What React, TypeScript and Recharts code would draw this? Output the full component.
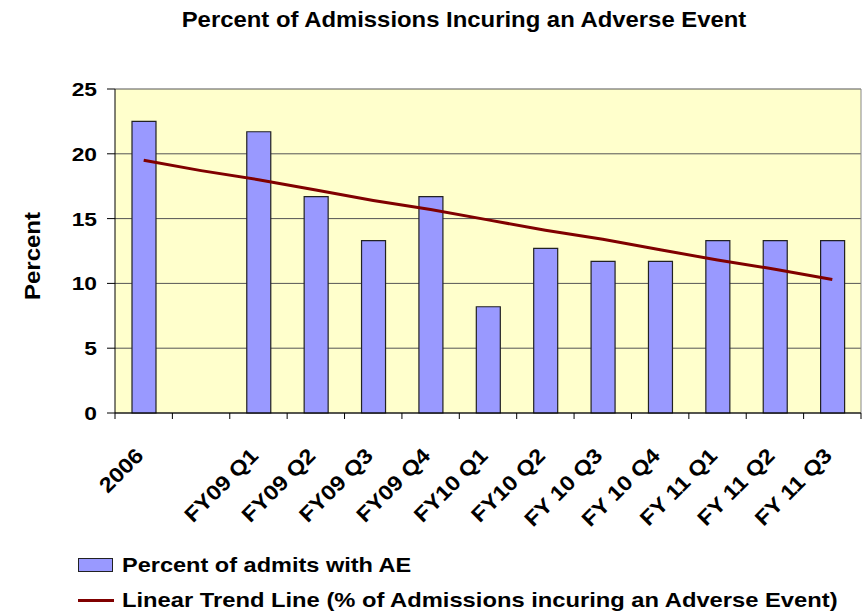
import React from 'react';
import { ComposedChart, Bar, Line, XAxis, YAxis, CartesianGrid } from 'recharts';

const categories = [
  '2006', '', 'FY09 Q1', 'FY09 Q2', 'FY09 Q3', 'FY09 Q4', 'FY10 Q1',
  'FY10 Q2', 'FY 10 Q3', 'FY 10 Q4', 'FY 11 Q1', 'FY 11 Q2', 'FY 11 Q3',
];
const admitsWithAE = [22.5, null, 21.7, 16.7, 13.3, 16.7, 8.2, 12.7, 11.7, 11.7, 13.3, 13.3, 13.3];
const trendLine = [19.5, 18.7, 18.0, 17.2, 16.4, 15.7, 14.9, 14.1, 13.4, 12.6, 11.8, 11.1, 10.3];
const yTicks = [0, 5, 10, 15, 20, 25];

const data = categories.map((name, i) => ({
  name,
  ae: admitsWithAE[i],
  trend: trendLine[i],
}));

const FONT = '"Liberation Sans", Arial, sans-serif';

const XTick = (props: any) => {
  const { x, y, payload, index } = props;
  const half = payload?.offset ?? 28.7;
  const last = index === categories.length - 1;
  const ax = x + 1;
  const ay = y + 44;
  return (
    <g>
      <line x1={x - half} y1={y} x2={x - half} y2={y + 6} stroke="#000" />
      {last && <line x1={x + half} y1={y} x2={x + half} y2={y + 6} stroke="#000" />}
      <text
        x={0}
        y={0}
        transform={`translate(${ax}, ${ay}) rotate(-45) scale(1.12, 1)`}
        textAnchor="end"
        fontFamily={FONT}
        fontWeight="bold"
        fontSize={21}
        fill="#000"
      >
        {payload.value}
      </text>
    </g>
  );
};

const YTick = (props: any) => {
  const { x, y, payload } = props;
  return (
    <text
      x={0}
      y={0}
      transform={`translate(${x}, ${y + 7}) scale(1.2, 1)`}
      textAnchor="end"
      fontFamily={FONT}
      fontWeight="bold"
      fontSize={19}
      fill="#000"
    >
      {payload.value}
    </text>
  );
};

const App: React.FC = () => {
  return (
    <div style={{ position: 'absolute', left: 0, top: 0, width: 864, height: 614, background: '#fff', fontFamily: FONT }}>
      <div
        style={{
          position: 'absolute', left: 0, width: 928, top: 7, textAlign: 'center',
          fontWeight: 'bold', fontSize: 22, color: '#000', transform: 'scaleX(1.085)', transformOrigin: '464px 0',
        }}
      >
        Percent of Admissions Incuring an Adverse Event
      </div>
      <div
        style={{
          position: 'absolute', left: 33, top: 256, transform: 'translate(-50%, -50%) rotate(-90deg) scaleX(1.09)',
          fontWeight: 'bold', fontSize: 22, color: '#000', whiteSpace: 'nowrap',
        }}
      >
        Percent
      </div>

      <ComposedChart
        width={864}
        height={614}
        data={data}
        margin={{ top: 89, right: 3, left: 0, bottom: 200 }}
        style={{ position: 'absolute', left: 0, top: 0 }}
      >
        <CartesianGrid vertical={false} stroke="#555" fill="#FFFFCC" />
        <CartesianGrid horizontal={false} verticalPoints={[861]} stroke="#888" />
        <XAxis
          dataKey="name"
          interval={0}
          height={1}
          tickSize={0}
          tickMargin={0}
          tickLine={false}
          axisLine={{ stroke: '#000' }}
          tick={<XTick />}
        />
        <YAxis
          width={115}
          domain={[0, 25]}
          ticks={yTicks}
          tickSize={8}
          tickMargin={10}
          axisLine={{ stroke: '#000' }}
          tickLine={{ stroke: '#000' }}
          tick={<YTick />}
        />
        <Bar dataKey="ae" fill="#9999FF" stroke="#222" strokeWidth={1.2} barSize={24} isAnimationActive={false} />
        <Line type="linear" dataKey="trend" stroke="#800000" strokeWidth={3} dot={false} isAnimationActive={false} />
      </ComposedChart>

      <div style={{ position: 'absolute', left: 78, top: 551, fontWeight: 'bold', fontSize: 21, color: '#000' }}>
        <div style={{ display: 'flex', alignItems: 'center', height: 28 }}>
          <span style={{ display: 'inline-block', width: 33, height: 12, background: '#9999FF', border: '1px solid #222', marginRight: 9 }} />
          <span style={{ display: 'inline-block', transform: 'scaleX(1.12)', transformOrigin: '0 0', whiteSpace: 'nowrap' }}>
            Percent of admits with AE
          </span>
        </div>
        <div style={{ display: 'flex', alignItems: 'center', height: 28, marginTop: 7 }}>
          <span style={{ display: 'inline-block', width: 36, height: 3, background: '#800000', marginRight: 8 }} />
          <span style={{ display: 'inline-block', transform: 'scaleX(1.13)', transformOrigin: '0 0', whiteSpace: 'nowrap' }}>
            Linear Trend Line (% of Admissions incuring an Adverse Event)
          </span>
        </div>
      </div>
    </div>
  );
};

export default App;
